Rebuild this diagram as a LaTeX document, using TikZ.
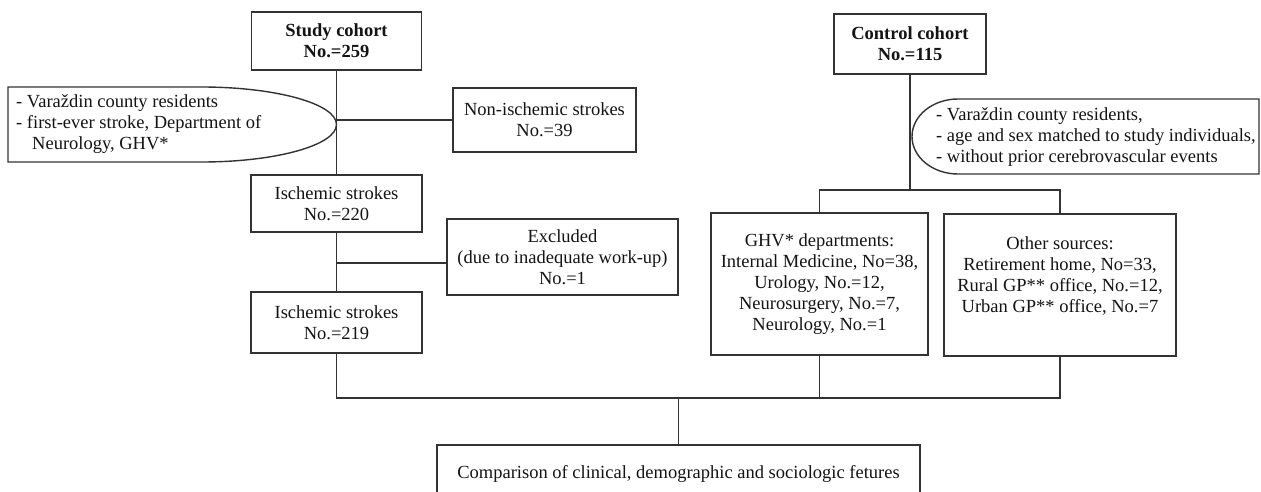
\documentclass[tikz,border=0pt]{standalone}
\usepackage{fontspec}
\setmainfont{Liberation Serif}
\begin{document}
\begin{tikzpicture}[x=1pt,y=-1pt,
  every node/.style={text=black!92,font=\fontsize{18.5}{20.8}\selectfont},
  box/.style={draw=black!80,line width=1.4pt,rectangle,align=center,inner sep=0pt},
  txt/.style={inner sep=0pt,align=left,anchor=west},
  conn/.style={draw=black!80,line width=1.4pt}]
\clip (0,0) rectangle (1261,492);
\fill[white] (0,0) rectangle (1261,492);

% study side
\node[box,minimum width=170pt,minimum height=58pt] (study) at (336.5,41) {\textbf{Study cohort}\\\textbf{No.=259}};
\node[box,minimum width=183pt,minimum height=64pt] (nonisch) at (544.5,120) {Non-ischemic strokes\\No.=39};
\node[box,minimum width=171pt,minimum height=57pt] (isch220) at (336.5,203.5) {Ischemic strokes\\No.=220};
\node[box,minimum width=231pt,minimum height=76pt] (excl) at (562.5,257) {Excluded\\(due to inadequate work-up)\\No.=1};
\node[box,minimum width=171pt,minimum height=61pt] (isch219) at (336.5,322.5) {Ischemic strokes\\No.=219};

% left criteria shape
\draw[conn] (8,87) -- (201.5,87) arc[start angle=90,end angle=-90,x radius=135pt,y radius=37.5pt] -- (8,162) -- cycle;
\node[txt] (crit1) at (16,124) {- Varaždin county residents\\- first-ever stroke, Department of\\\hspace{16pt}Neurology, GHV*};

% control side
\node[box,minimum width=152pt,minimum height=60pt] (control) at (910,44) {\textbf{Control cohort}\\\textbf{No.=115}};
\draw[conn] (1259,99) -- (958,99) arc[start angle=90,end angle=270,x radius=46pt,y radius=37.5pt] -- (1259,174) -- cycle;
\node[txt] (crit2) at (936,137) {- Varaždin county residents,\\- age and sex matched to study individuals,\\- without prior cerebrovascular events};
\node[box,minimum width=217pt,minimum height=142pt] (ghv) at (819.5,284) {GHV* departments:\\Internal Medicine, No=38,\\Urology, No.=12,\\Neurosurgery, No.=7,\\Neurology, No.=1};
\node[box,minimum width=232pt,minimum height=142pt] (other) at (1060,285) {Other sources:\\Retirement home, No=33,\\Rural GP** office, No.=12,\\Urban GP** office, No.=7\\~};

\node[box,minimum width=483pt,minimum height=58pt] (comp) at (678.5,474) {Comparison of clinical, demographic and sociologic fetures};

\coordinate (join) at (678.5,398);
\coordinate (csplit) at (910,190);

% connectors
\draw[conn] (study.south) -- (isch220.north);
\draw[conn] (study.south |- nonisch.west) -- (nonisch.west);
\draw[conn] (isch220.south) -- (isch219.north);
\draw[conn] (isch220.south |- excl.west) ++(0,6) -- ([yshift=-6pt]excl.west);
\draw[conn] (isch219.south) |- (join) -| (other.south);
\draw[conn] (ghv.south) -- (ghv.south |- join);
\draw[conn] (join) -- (comp.north);
\draw[conn] (control.south) -- (csplit);
\draw[conn] (ghv.north) |- (csplit) -| (other.north);
\end{tikzpicture}
\end{document}
